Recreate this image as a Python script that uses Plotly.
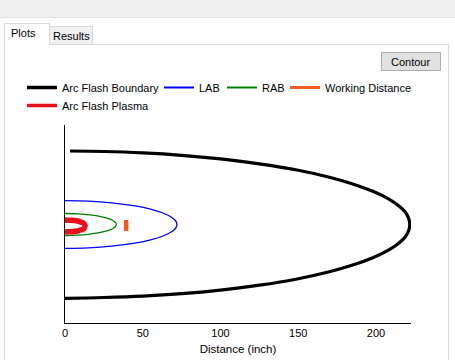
import plotly.graph_objects as go

# ---------------- data ----------------
series_names = ["Arc Flash Boundary", "LAB", "RAB", "Working Distance", "Arc Flash Plasma"]

boundary_x = [3.2, 25, 50, 75, 100, 125, 150, 170, 185, 198, 208, 215, 219, 221, 221.7,
              221, 219, 215, 208, 198, 185, 170, 150, 125, 100, 75, 50, 25, 0]
boundary_y = [73.5, 73, 71.6, 69.2, 65.6, 60.7, 54.2, 47.3, 40.6, 33.2, 25.7, 18.3, 12, 6, 0,
              -6, -12, -18.3, -25.7, -33.2, -40.6, -47.3, -54.2, -60.7, -65.6, -69.2, -71.6, -73, -73.8]

lab_x = [0, 15, 30, 45, 55, 63, 68, 71, 72, 71, 68, 63, 55, 45, 30, 15, 0]
lab_y = [23.8, 23.3, 21.6, 18.6, 15.4, 11.5, 7.8, 4, 0, -4, -7.8, -11.5, -15.4, -18.6, -21.6, -23.3, -23.8]

rab_x = [0, 8, 16, 23, 28, 31, 32.5, 33, 32.5, 31, 28, 23, 16, 8, 0]
rab_y = [11, 10.7, 9.6, 7.9, 5.8, 3.8, 1.9, 0, -1.9, -3.8, -5.8, -7.9, -9.6, -10.7, -11]

plasma_x = [0, 4, 8, 10.5, 12.3, 12.9, 12.3, 10.5, 8, 4, 0]
plasma_y = [4.3, 4.2, 3.5, 2.3, 0.8, -1.5, -3.8, -5.3, -6.5, -7.2, -7.3]

wd_x = [39.3, 39.3]
wd_y = [4.5, -6.5]

x_tick_vals = [0, 50, 100, 150, 200]
x_title = "Distance (inch)"

# ---------------- layout geometry (pixels) ----------------
FIG_W, FIG_H = 455, 360
L, R, T, B = 65, 44, 125, 37
PW = FIG_W - L - R
PH = FIG_H - T - B


def pxx(px):
    return (px - L) / PW


def pxy(py):
    return (T + PH - py) / PH


FONT = "Liberation Sans, Arial, sans-serif"

fig = go.Figure()

colors = ["#000000", "#0000ff", "#008000", "#f25a1e", "#e8101a"]
widths = [3.2, 1.3, 1.3, 4.5, 5.5]
legend_widths = [3.5, 2, 2, 3, 3.5]
xs = [boundary_x, lab_x, rab_x, wd_x, plasma_x]
ys = [boundary_y, lab_y, rab_y, wd_y, plasma_y]
legend_ids = ["legend", "legend2", "legend3", "legend4", "legend5"]

# draw order: boundary, LAB, RAB, plasma, working distance
for i in [0, 1, 2, 4, 3]:
    fig.add_trace(go.Scatter(
        x=xs[i], y=ys[i], mode="lines", name=series_names[i],
        line=dict(color=colors[i], width=widths[i], shape="spline" if i != 3 else "linear"),
        showlegend=False, hoverinfo="skip",
    ))

# legend entries (same series, legend-sized strokes)
for i in range(5):
    fig.add_trace(go.Scatter(
        x=[None], y=[None], mode="lines", name=series_names[i],
        line=dict(color=colors[i], width=legend_widths[i]),
        legend=legend_ids[i], showlegend=True, hoverinfo="skip",
    ))

# legend positions (text start x, row center y) in pixels
legend_pos = [(62, 87.5), (199, 87.5), (262, 87.5), (325, 87.5), (62, 105.5)]
legend_layouts = {}
for lid, (tx, cy) in zip(legend_ids, legend_pos):
    legend_layouts[lid] = dict(
        x=pxx(tx - 40), y=pxy(cy), xanchor="left", yanchor="middle",
        bgcolor="rgba(0,0,0,0)", borderwidth=0, itemwidth=30,
        font=dict(family=FONT, size=11, color="#000000"),
        orientation="h",
    )

shapes = []
GRAY = "#f0f0f0"
BORDER = "#d9d9d9"
# top gray strip
shapes.append(dict(type="rect", xref="paper", yref="paper", x0=pxx(0), x1=pxx(455), y0=pxy(0), y1=pxy(17),
                   fillcolor=GRAY, line=dict(width=0), layer="below"))
shapes.append(dict(type="line", xref="paper", yref="paper", x0=pxx(0), x1=pxx(455), y0=pxy(17.5), y1=pxy(17.5),
                   line=dict(color="#e3e3e3", width=1), layer="below"))
# Results tab
shapes.append(dict(type="rect", xref="paper", yref="paper", x0=pxx(49.5), x1=pxx(92.5), y0=pxy(44.5), y1=pxy(26.5),
                   fillcolor=GRAY, line=dict(color=BORDER, width=1), layer="below"))
# Plots tab (selected)
shapes.append(dict(type="path", xref="paper", yref="paper",
                   path=f"M{pxx(4.5)},{pxy(45)} L{pxx(4.5)},{pxy(23.5)} L{pxx(49.5)},{pxy(23.5)} L{pxx(49.5)},{pxy(45)}",
                   fillcolor="white", line=dict(color=BORDER, width=1), layer="below"))
# tab page borders
shapes.append(dict(type="line", xref="paper", yref="paper", x0=pxx(92.5), x1=pxx(448.5), y0=pxy(44.5), y1=pxy(44.5),
                   line=dict(color=BORDER, width=1), layer="below"))
shapes.append(dict(type="line", xref="paper", yref="paper", x0=pxx(4.5), x1=pxx(4.5), y0=pxy(45), y1=pxy(360),
                   line=dict(color=BORDER, width=1), layer="below"))
shapes.append(dict(type="line", xref="paper", yref="paper", x0=pxx(448.5), x1=pxx(448.5), y0=pxy(44.5), y1=pxy(360),
                   line=dict(color=BORDER, width=1), layer="below"))
# Contour button
shapes.append(dict(type="rect", xref="paper", yref="paper", x0=pxx(381.5), x1=pxx(440.5), y0=pxy(52.5), y1=pxy(70.5),
                   fillcolor="#e1e1e1", line=dict(color="#adadad", width=1), layer="below"))

annotations = [
    dict(text="Plots", x=pxx(23), y=pxy(33), xref="paper", yref="paper", showarrow=False,
         xanchor="center", yanchor="middle", font=dict(family=FONT, size=11, color="#000")),
    dict(text="Results", x=pxx(71), y=pxy(36), xref="paper", yref="paper", showarrow=False,
         xanchor="center", yanchor="middle", font=dict(family=FONT, size=11, color="#000")),
    dict(text="Contour", x=pxx(410.5), y=pxy(62), xref="paper", yref="paper", showarrow=False,
         xanchor="center", yanchor="middle", font=dict(family=FONT, size=11, color="#000")),
]

fig.update_layout(
    width=FIG_W, height=FIG_H,
    margin=dict(l=L, r=R, t=T, b=B, pad=0, autoexpand=False),
    paper_bgcolor="white", plot_bgcolor="rgba(0,0,0,0)",
    showlegend=True,
    shapes=shapes, annotations=annotations,
    font=dict(family=FONT, size=11, color="#000"),
    **legend_layouts,
)

fig.update_xaxes(
    range=[0, 222.5], showline=True, linecolor="#000", linewidth=1, mirror=False,
    ticks="", tickvals=x_tick_vals, showgrid=False, zeroline=False,
    tickfont=dict(family=FONT, size=11, color="#000"),
    title=dict(text=x_title, font=dict(family=FONT, size=11.5, color="#000"), standoff=6),
    fixedrange=True, automargin=False,
)
fig.update_yaxes(
    range=[-98.5, 99.5], showline=True, linecolor="#000", linewidth=1,
    ticks="", showticklabels=False, showgrid=False, zeroline=False, fixedrange=True,
    automargin=False,
)

fig.write_html(
    "out.html",
    config={"displayModeBar": False},
    post_script="document.body.style.margin='0';document.body.style.overflow='hidden';",
)
